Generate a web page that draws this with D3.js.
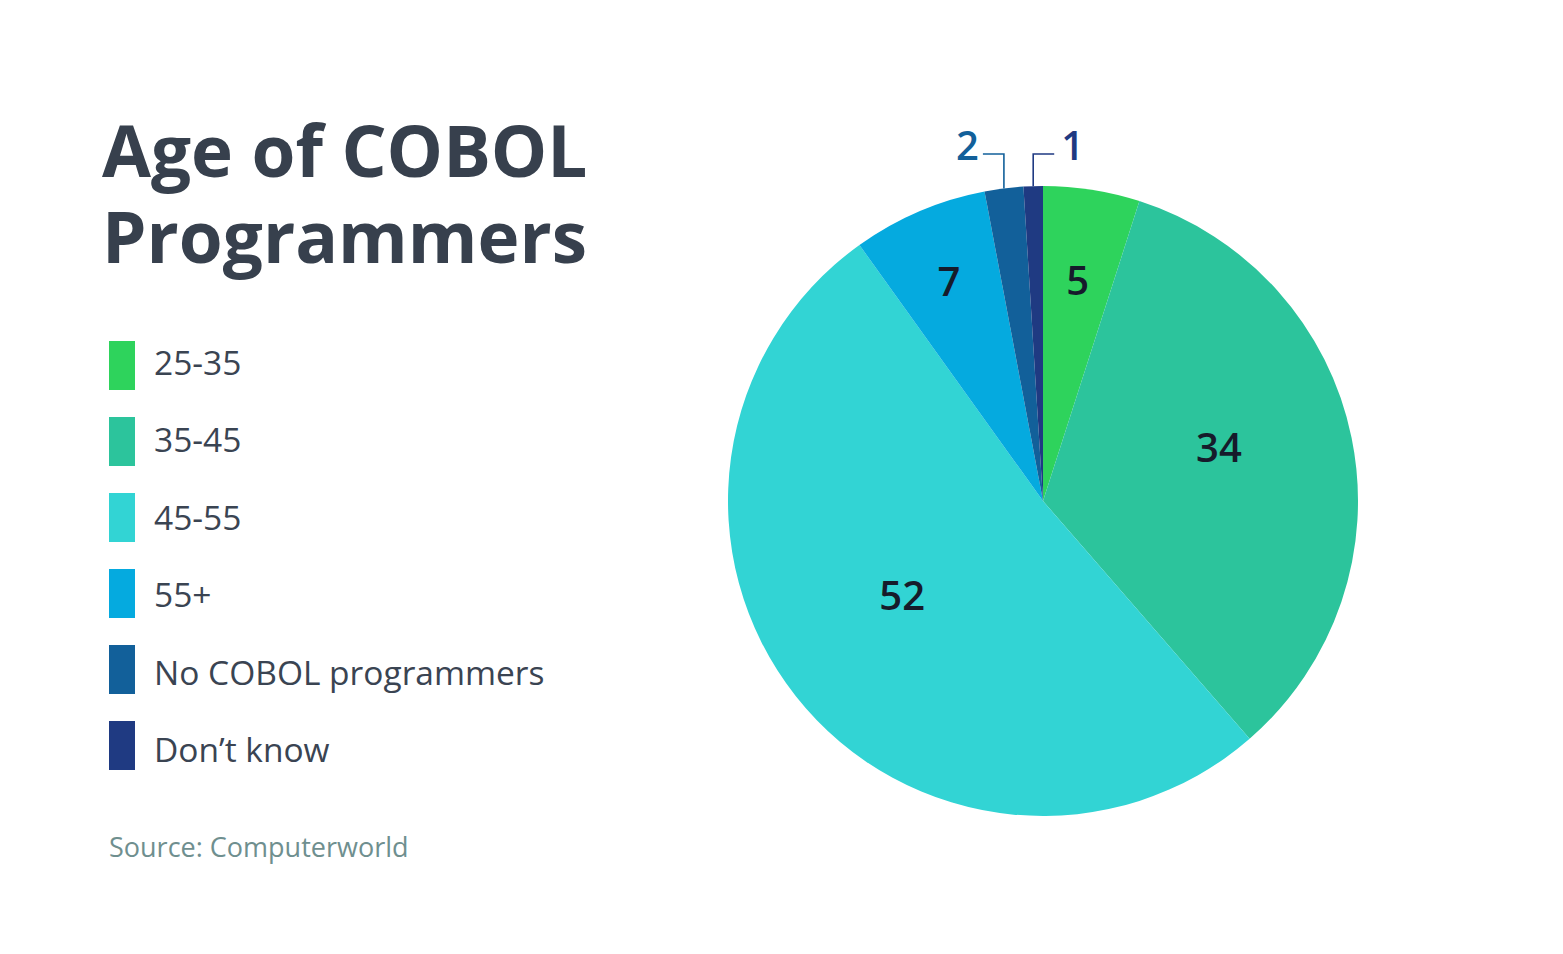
<!DOCTYPE html>
<html>
<head>
<meta charset="utf-8">
<script src="https://cdnjs.cloudflare.com/ajax/libs/d3/7.8.5/d3.min.js"></script>
<style>
  body { margin: 0; background: #fff; }
  svg { font-family: "Open Sans", sans-serif; }
</style>
</head>
<body>
<svg width="1563" height="954"></svg>
<script>
var categories = ["25-35", "35-45", "45-55", "55+", "No COBOL programmers", "Don\u2019t know"];
var values = [5, 34, 52, 7, 2, 1];
var colors = ["#2ed35c", "#2cc49c", "#32d4d4", "#05aadf", "#12609a", "#1f3a82"];
var titleLines = ["Age of COBOL", "Programmers"];
var source = "Source: Computerworld";

var data = categories.map(function(c, i){
    return { name: c, value: values[i], color: colors[i] };
});

var svg = d3.select("svg");

// title
svg.append("g")
    .selectAll("text")
    .data(titleLines)
    .enter()
    .append("text")
    .attr("x", 102)
    .attr("y", function(d, i){ return 177 + i * 86; })
    .style("font-size", "71px")
    .style("font-weight", 700)
    .attr("fill", "#37404d")
    .text(function(d){ return d; });

// legend
var legend = svg.append("g").attr("transform", "translate(109,341)");

legend.selectAll("rect")
    .data(data)
    .enter()
    .append("rect")
    .attr("y", function(d, i){ return i * 76; })
    .attr("width", 26)
    .attr("height", 49)
    .attr("fill", function(d){ return d.color; });

legend.selectAll("text")
    .data(data)
    .enter()
    .append("text")
    .attr("x", 45)
    .attr("y", function(d, i){ return 34 + i * 77.4; })
    .style("font-size", "33.5px")
    .attr("fill", "#3a4452")
    .text(function(d){ return d.name; });

svg.append("text")
    .attr("x", 109)
    .attr("y", 857)
    .style("font-size", "27px")
    .attr("fill", "#6f8f8f")
    .text(source);

// pie
var R = 315;
var cx = 1043, cy = 501;
var pie = d3.pie().sort(null).value(function(d){ return d.value; });
var arc = d3.arc().innerRadius(0).outerRadius(R);
var arcs = pie(data);

var g = svg.append("g").attr("transform", "translate(" + cx + "," + cy + ")");

g.selectAll("path")
    .data(arcs)
    .enter()
    .append("path")
    .attr("d", arc)
    .attr("fill", function(d){ return d.data.color; });

function labelPos(d){
    var span = d.endAngle - d.startAngle;
    var a = (d.startAngle + d.endAngle) / 2;
    if (span < 0.6) {
        var r = R * (0.585 + 0.4 * span);
        return [Math.sin(a) * r, -Math.cos(a) * r];
    }
    return [Math.sin(a) * R * 0.57, -Math.cos(a) * R * 0.57 - 17];
}

var inside = arcs.filter(function(d){ return d.data.value >= 5; });
g.selectAll(".inlabel")
    .data(inside)
    .enter()
    .append("text")
    .attr("class", "inlabel")
    .attr("x", function(d){ return labelPos(d)[0]; })
    .attr("y", function(d){ return labelPos(d)[1]; })
    .attr("dy", "0.36em")
    .attr("text-anchor", "middle")
    .style("font-size", "40px")
    .style("font-weight", 600)
    .attr("fill", "#161b2b")
    .text(function(d){ return d.data.value; });

// callouts for small slices
var small = arcs.filter(function(d){ return d.data.value < 5; });
var lineY = -347;
small.forEach(function(d, i){
    var a = (d.startAngle + d.endAngle) / 2;
    var px = Math.sin(a) * R;
    var py = -Math.cos(a) * R;
    var dir = i === 0 ? -1 : 1;
    var ex = px + dir * 21;
    g.append("path")
        .attr("d", "M" + px + "," + py + "V" + lineY + "H" + ex)
        .attr("fill", "none")
        .attr("stroke", d.data.color)
        .attr("stroke-width", 1.6);
    g.append("text")
        .attr("x", ex + dir * (dir < 0 ? 4 : 7))
        .attr("y", lineY + 6)
        .attr("text-anchor", dir < 0 ? "end" : "start")
        .style("font-size", "40px")
        .style("font-weight", 600)
        .attr("fill", d.data.color)
        .text(d.data.value);
});
</script>
</body>
</html>
